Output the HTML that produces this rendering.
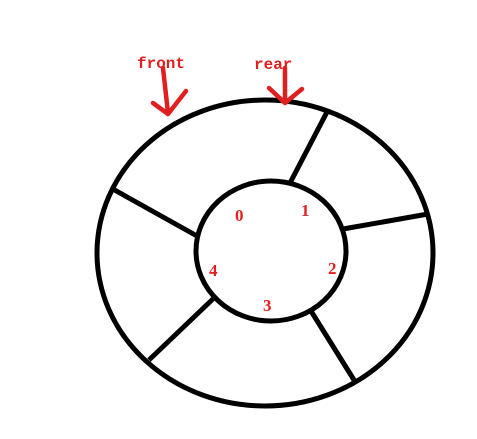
<!DOCTYPE html>
<html><head><meta charset="utf-8"><style>body{margin:0;background:#fff}svg{display:block}</style></head>
<body>
<svg width="477" height="439">
<rect width="477" height="439" fill="#fff"/>
<g fill="none" stroke="#000" stroke-width="5">
<ellipse cx="265" cy="253" rx="168" ry="153"/>
<ellipse cx="271" cy="251" rx="75" ry="70"/>
<line x1="290" y1="183" x2="327" y2="112"/>
<line x1="343" y1="229" x2="428" y2="214"/>
<line x1="311" y1="311" x2="354" y2="380"/>
<line x1="215" y1="297" x2="149" y2="360"/>
<line x1="197" y1="236" x2="111" y2="188"/>
</g>
<g fill="#e02020" font-family="Liberation Mono, monospace" font-size="16" font-weight="bold">
<text x="137" y="68">front</text>
<text x="254" y="69">rear</text>
</g>
<g fill="#e02020" font-family="Liberation Serif, serif" font-size="17" font-weight="bold">
<text x="235" y="221">0</text>
<text x="301" y="216">1</text>
<text x="328" y="274">2</text>
<text x="263" y="311">3</text>
<text x="209" y="276">4</text>
</g>
<g fill="none" stroke="#e02020" stroke-width="4.5" stroke-linecap="round" stroke-linejoin="round">
<path d="M163 68 L168 113 M153 103 L168 114 L186 91"/>
<path d="M285 68 L285 102 M269 88 L285 103 L302 89"/>
</g>
</svg>
</body></html>
